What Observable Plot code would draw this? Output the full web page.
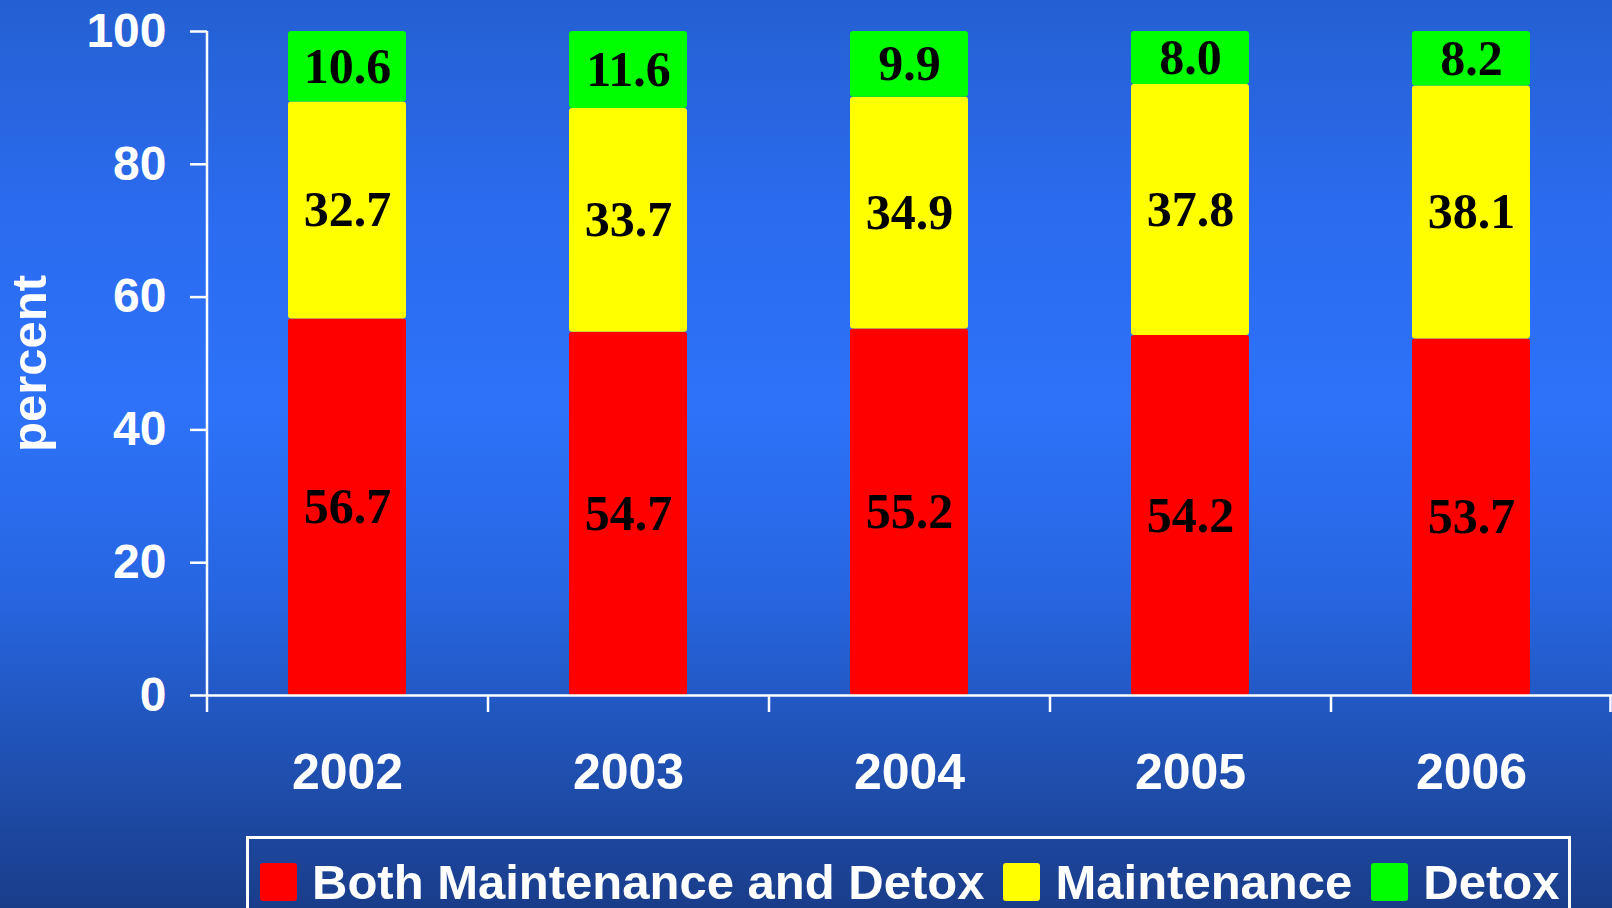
<!DOCTYPE html>
<html>
<head>
<meta charset="utf-8">
<script src="https://cdn.jsdelivr.net/npm/d3@7"></script>
<script src="https://cdn.jsdelivr.net/npm/@observablehq/plot@0.6"></script>
<style>
  html, body { margin: 0; padding: 0; width: 1612px; height: 908px; overflow: hidden; }
  body {
    background: linear-gradient(to bottom, #2560d2 0%, #2b6cf0 25%, #2d72f9 45%, #2766e2 65%, #1f4faf 85%, #1a3d8a 100%);
    font-family: "Liberation Sans", Arial, sans-serif;
  }
  #chart svg { display: block; background: transparent; }
  #legend {
    position: absolute; left: 246px; top: 836px; width: 1325px; height: 100px;
    border: 3px solid #ffffff; border-bottom: none; box-sizing: border-box;
    display: flex; align-items: flex-start; padding: 18px 0 0 11px;
    color: #ffffff; font-weight: bold; font-size: 49px; white-space: nowrap;
  }
  .item { display: flex; align-items: center; margin-right: 19px; line-height: 50px; }
  .sw { width: 37px; height: 38px; border-radius: 3px; margin-right: 15px; flex: none; }
</style>
</head>
<body>
<div id="chart"></div>
<div id="legend"></div>
<script>
const years = ["2002", "2003", "2004", "2005", "2006"];
const series = ["Both Maintenance and Detox", "Maintenance", "Detox"];
const both = [56.7, 54.7, 55.2, 54.2, 53.7];
const maint = [32.7, 33.7, 34.9, 37.8, 38.1];
const detox = [10.6, 11.6, 9.9, 8.0, 8.2];
const colors = ["#ff0000", "#ffff00", "#00ff00"];
const yTicks = [0, 20, 40, 60, 80, 100];

const values = [both, maint, detox];
const data = [];
years.forEach((yr, i) => {
  series.forEach((s, j) => data.push({year: yr, series: s, value: values[j][i]}));
});

const W = 1612, H = 836;
const mL = 207, mR = 0, mT = 31, mB = 141;
const bw = (W - mL - mR) / years.length;
const sansFont = "'Liberation Sans', Arial, sans-serif";

const chart = Plot.plot({
  width: W, height: H,
  marginLeft: mL, marginRight: mR, marginTop: mT, marginBottom: mB,
  style: {background: "transparent", color: "#ffffff", overflow: "visible"},
  x: {domain: years, paddingInner: 0.58, paddingOuter: 0.29, align: 0.5},
  y: {domain: [0, 100]},
  color: {domain: series, range: colors},
  marks: [
    Plot.barY(data, Plot.stackY({x: "year", y: "value", fill: "series", rx: 3, order: null})),
    Plot.text(data, Plot.stackY({x: "year", y: "value", z: "series", order: null,
      text: d => d.value.toFixed(1), fill: "#000000", fontSize: 50, fontWeight: "bold",
      fontFamily: "'Liberation Serif', 'Times New Roman', serif"})),
    Plot.ruleY([0], {stroke: "#ffffff", strokeWidth: 2.5}),
    Plot.ruleX([years[0]], {y1: 0, y2: 100, dx: -bw / 2, stroke: "#ffffff", strokeWidth: 2.5}),
    Plot.axisY({ticks: yTicks, tickSize: 17, tickPadding: 24, tickFormat: d => String(d),
      fontSize: 48, fontWeight: "bold", fontFamily: sansFont,
      stroke: "#ffffff", strokeWidth: 2.5, fill: "#ffffff", label: null}),
    Plot.axisX({tickSize: 17, tickFormat: () => "", dx: -bw / 2, stroke: "#ffffff", strokeWidth: 2.5, label: null}),
    Plot.axisX({ticks: [years[years.length - 1]], tickSize: 17, tickFormat: () => "", dx: bw / 2 - 1.5,
      stroke: "#ffffff", strokeWidth: 2.5, label: null}),
    Plot.axisX({tickSize: 0, tickPadding: 58, fontSize: 50, fontWeight: "bold",
      fontFamily: sansFont, fill: "#ffffff", label: null}),
    Plot.text(["percent"], {frameAnchor: "left", textAnchor: "middle", dx: -177, rotate: -90, text: d => d,
      fill: "#ffffff", fontSize: 49, fontWeight: "bold", fontFamily: sansFont})
  ]
});
document.getElementById("chart").appendChild(chart);

const legend = document.getElementById("legend");
series.forEach((s, i) => {
  const item = document.createElement("div");
  item.className = "item";
  const sw = document.createElement("div");
  sw.className = "sw";
  sw.style.background = colors[i];
  const lab = document.createElement("span");
  lab.textContent = s;
  item.appendChild(sw);
  item.appendChild(lab);
  legend.appendChild(item);
});
</script>
</body>
</html>
